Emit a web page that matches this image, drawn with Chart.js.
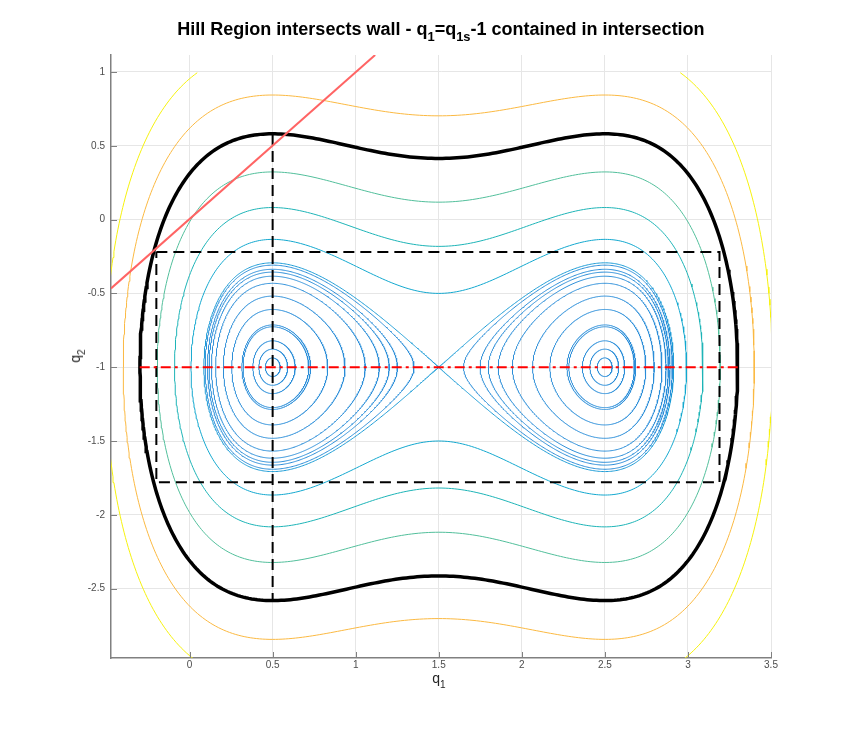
<!DOCTYPE html>
<html>
<head>
<meta charset="utf-8">
<script src="https://cdn.jsdelivr.net/npm/chart.js@4.4.1/dist/chart.umd.min.js"></script>
<style>
body { margin: 0; background: #fff; }
#wrap { position: relative; width: 853px; height: 739px; font-family: "Liberation Sans", Helvetica, Arial, sans-serif; }
#c { position: absolute; left: 0; top: 0; }
.lbl { position: absolute; color: #262626; white-space: nowrap; }
.lbl sub { font-size: 72%; position: relative; bottom: -0.45em; vertical-align: baseline; line-height: 0; }
#title { left: 0; width: 882px; top: 19px; text-align: center; font-weight: bold; font-size: 18px; color: #000; }
#xl { left: 0; width: 878px; top: 670px; text-align: center; font-size: 14px; }
#yl { left: 75px; top: 356px; font-size: 14px; transform: translate(-50%, -50%) rotate(-90deg); }
</style>
</head>
<body>
<div id="wrap">
  <canvas id="c" width="853" height="739"></canvas>
  <div class="lbl" id="title">Hill Region intersects wall - q<sub>1</sub>=q<sub>1s</sub>-1 contained in intersection</div>
  <div class="lbl" id="xl">q<sub>1</sub></div>
  <div class="lbl" id="yl">q<sub>2</sub></div>
</div>
<script>
// axis range and ticks
var xMin = -0.473, xMax = 3.5;
var yMin = -2.97, yMax = 1.115;
var xTicks = [0, 0.5, 1, 1.5, 2, 2.5, 3, 3.5];
var yTicks = [-2.5, -2, -1.5, -1, -0.5, 0, 0.5, 1];

// energy levels of the contours
var wellLevels = [0.004, 0.015, 0.032, 0.075, 0.082, 0.153, 0.232, 0.323, 0.38, 0.415, 0.44, 0.478, 0.5];
var outerLevels = [0.75, 1.17, 1.75];
var hillLevel = 2.5;
var highLevels = [3.4, 4.6];
var gridTop = 1; // contour grid stops at q2 = 1

// saddle / centre of the potential
var q1s = 1.5, q2c = -1;

// wall and the boxes drawn on top
var wallQ1 = [-0.473, 1.117];
var wallQ2 = [-0.466, 1.115];
var boxQ1 = [-0.2, 3.19, 3.19, -0.2, -0.2];
var boxQ2 = [-0.22, -0.22, -1.78, -1.78, -0.22];
var vertQ1 = [0.5, 0.5];
var vertQ2 = [0.58, -2.58];
var axisQ1 = [-0.3, 3.3];
var axisQ2 = [-1, -1];

var wellColor = '#2a8dd8';
var sepColor = '#1d9cd6';
var outerColors = ['#13a8cf', '#1db4b7', '#52bf9b'];
var highColors = ['#fbb942', '#f6f20e'];

function hill(q1) {
    var u = q1 - q1s;
    return 0.5 * (u * u - 1) * (u * u - 1);
}

// closed level curves of the Hill region function
function contour(level) {
    var s = Math.sqrt(2 * level), N = 260, loops = [];
    var outer = Math.sqrt(1 + s);
    var spans;
    if (level <= 0.5) {
        var inner = Math.sqrt(Math.max(0, 1 - s));
        spans = [[q1s - outer, q1s - inner], [q1s + inner, q1s + outer]];
    } else {
        spans = [[q1s - outer, q1s + outer]];
    }
    spans.forEach(function(sp) {
        var a = sp[0], b = sp[1], top = [], bot = [];
        for (var i = 0; i <= N; i++) {
            var x = a + (b - a) * (1 - Math.cos(Math.PI * i / N)) / 2;
            var h = Math.sqrt(Math.max(0, level - hill(x)));
            top.push({x: x, y: q2c + h});
            bot.push({x: x, y: q2c - h});
        }
        var pts = top.concat(bot.reverse()).map(function(p) {
            return p.y > gridTop ? {x: p.x, y: null} : p;
        });
        loops.push(pts);
    });
    return loops;
}

function pairs(xs, ys) {
    var out = [];
    for (var i = 0; i < xs.length; i++) out.push({x: xs[i], y: ys[i]});
    return out;
}

var datasets = [];
function addLevel(level, color, width, order) {
    contour(level).forEach(function(pts) {
        datasets.push({
            data: pts, showLine: true, borderColor: color, borderWidth: width,
            pointRadius: 0, spanGaps: false, order: order
        });
    });
}

wellLevels.forEach(function(l) { addLevel(l, l === 0.5 ? sepColor : wellColor, 1, 10); });
outerLevels.forEach(function(l, i) { addLevel(l, outerColors[i], 1, 10); });
highLevels.forEach(function(l, i) { addLevel(l, highColors[i], 1, 10); });
addLevel(hillLevel, '#000000', 3.5, 6);

datasets.push({data: pairs(boxQ1, boxQ2), showLine: true, borderColor: '#000', borderWidth: 2,
    borderDash: [11, 6], pointRadius: 0, order: 4});
datasets.push({data: pairs(vertQ1, vertQ2), showLine: true, borderColor: '#000', borderWidth: 2,
    borderDash: [11, 6], pointRadius: 0, order: 4});
datasets.push({data: pairs(axisQ1, axisQ2), showLine: true, borderColor: '#ff0000', borderWidth: 2,
    borderDash: [10, 4, 3, 4], pointRadius: 0, order: 3});
datasets.push({data: pairs(wallQ1, wallQ2), showLine: true, borderColor: '#ff6464', borderWidth: 2,
    pointRadius: 0, order: 1});

var insideTicks = {
    id: 'insideTicks',
    afterDraw: function(chart) {
        var ctx = chart.ctx, a = chart.chartArea, x = chart.scales.x, y = chart.scales.y;
        ctx.save();
        ctx.strokeStyle = '#808080';
        ctx.lineWidth = 1;
        ctx.beginPath();
        xTicks.forEach(function(v) {
            var px = Math.round(x.getPixelForValue(v)) + 0.5;
            ctx.moveTo(px, a.bottom);
            ctx.lineTo(px, a.bottom - 6);
        });
        yTicks.forEach(function(v) {
            var py = Math.round(y.getPixelForValue(v)) + 0.5;
            ctx.moveTo(a.left, py);
            ctx.lineTo(a.left + 6, py);
        });
        ctx.stroke();
        ctx.restore();
    }
};

var tickFont = {size: 10, family: '"Liberation Sans", Helvetica, Arial, sans-serif'};

new Chart(document.getElementById('c').getContext('2d'), {
    type: 'scatter',
    data: {datasets: datasets},
    options: {
        responsive: false,
        animation: false,
        layout: {padding: {left: 0, right: 82, top: 55, bottom: 0}},
        plugins: {legend: {display: false}, tooltip: {enabled: false}},
        scales: {
            x: {
                type: 'linear', min: xMin, max: xMax,
                afterBuildTicks: function(s) { s.ticks = xTicks.map(function(v) { return {value: v}; }); },
                afterFit: function(s) { s.height = 81; },
                grid: {color: '#e6e6e6', drawTicks: false},
                border: {color: '#808080', width: 1.5},
                ticks: {padding: 1, font: tickFont, color: '#4d4d4d', maxRotation: 0, autoSkip: false,
                    callback: function(v) { return String(v); }}
            },
            y: {
                type: 'linear', min: yMin, max: yMax,
                afterBuildTicks: function(s) { s.ticks = yTicks.map(function(v) { return {value: v}; }); },
                afterFit: function(s) { s.width = 111; },
                grid: {color: '#e6e6e6', drawTicks: false},
                border: {color: '#808080', width: 1.5},
                ticks: {padding: 6, font: tickFont, color: '#4d4d4d', autoSkip: false,
                    callback: function(v) { return String(v); }}
            }
        }
    },
    plugins: [insideTicks]
});
</script>
</body>
</html>
